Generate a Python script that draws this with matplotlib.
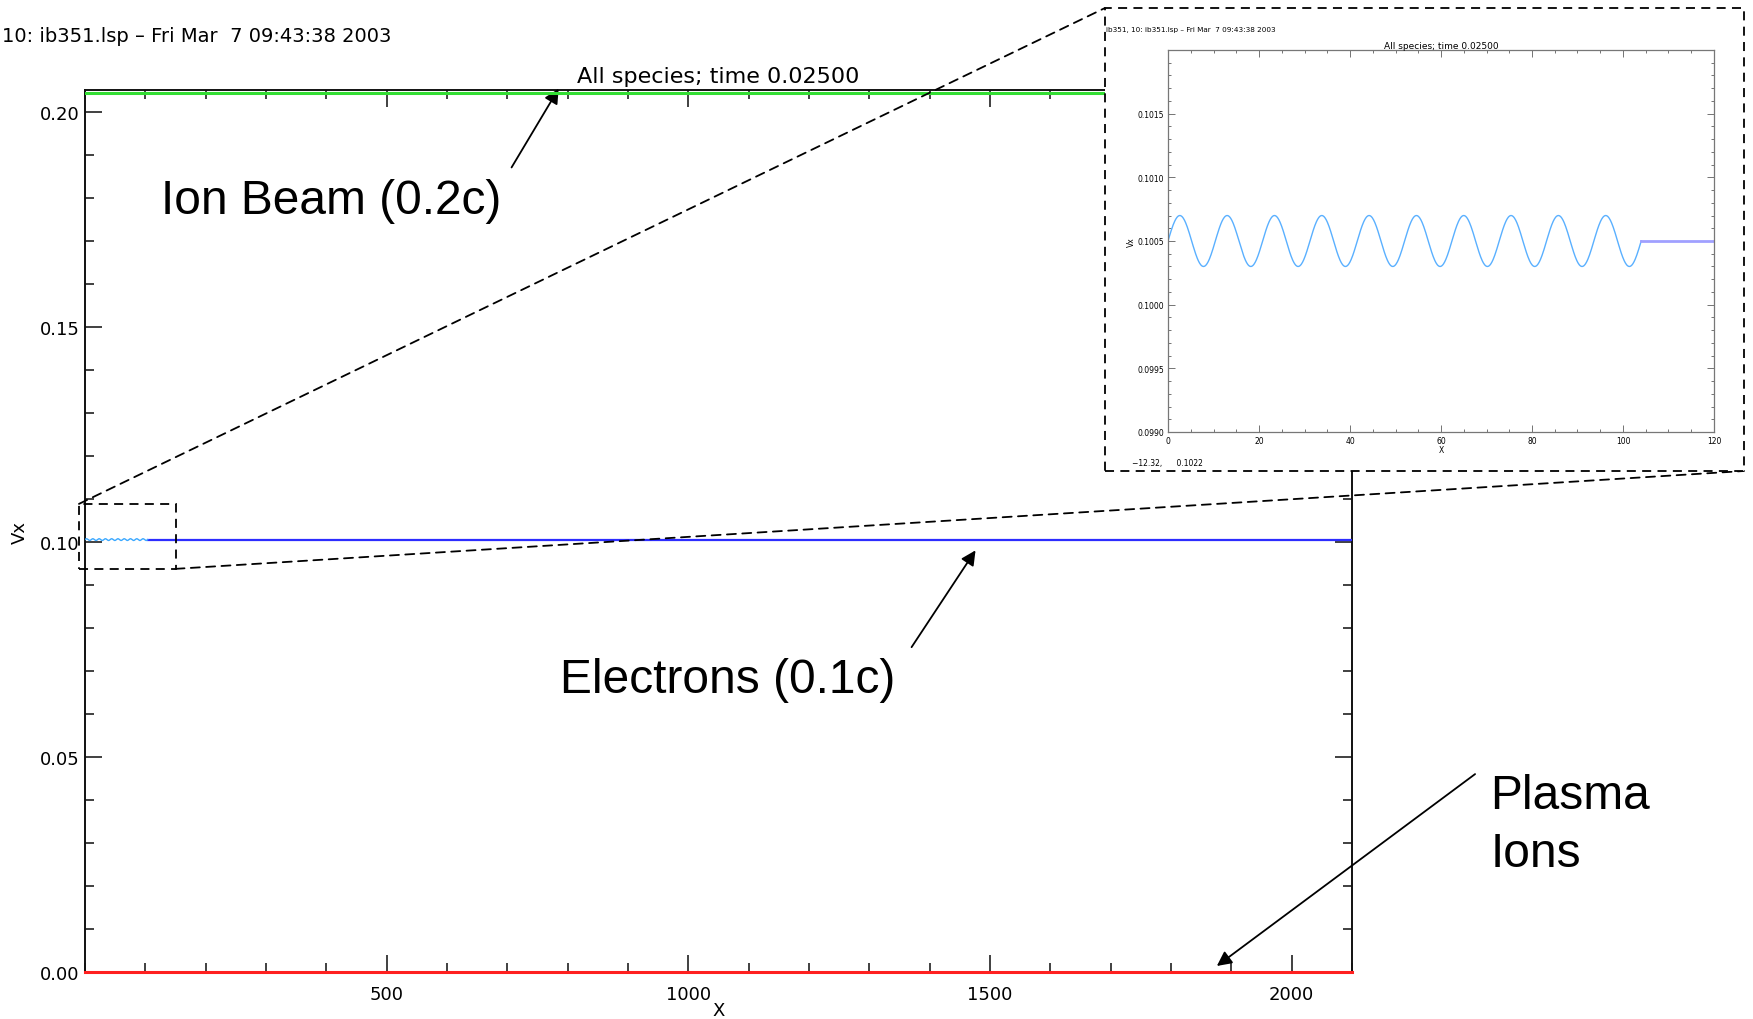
import numpy as np
import matplotlib
matplotlib.use("Agg")
import matplotlib.pyplot as plt
from matplotlib.patches import Rectangle, ConnectionPatch
from matplotlib.ticker import MultipleLocator, FormatStrFormatter, FixedLocator

# plot text uses the wider DejaVu face, the callouts use an Arial-like face
plt.rcParams['font.family'] = ['DejaVu Sans']
LABEL_FONT = ['Liberation Sans', 'DejaVu Sans']

# velocity of each species (units of c) across the domain
x_max = 2100.0
ion_beam_vx = 0.2042
electron_vx = 0.1005
plasma_ion_vx = 0.0

# seeded perturbation on the electron stream
wave_amp = 0.0002
wave_len = 10.4
wave_end = 104.0

header = "10: ib351.lsp \u2013 Fri Mar  7 09:43:38 2003"
inset_header = "ib351, 10: ib351.lsp \u2013 Fri Mar  7 09:43:38 2003"
title = "All species; time 0.02500"
cursor_text = "\u221212.32,      0.1022"
inset_yticks = [0.0990, 0.0995, 0.1000, 0.1005, 0.1010, 0.1015]

W, H = 1753, 1020
fig = plt.figure(figsize=(W / 100, H / 100), dpi=100)


def frac(px, py):
    # pixel position (from top-left) -> figure fraction
    return px / W, 1 - py / H


def idl_axes(ax, color, major_len, minor_len, width):
    for s in ax.spines.values():
        s.set_color(color)
        s.set_linewidth(width)
    ax.tick_params(which='both', direction='in', top=True, right=True,
                   color=color, width=width * 0.8)
    ax.tick_params(which='major', length=major_len)
    ax.tick_params(which='minor', length=minor_len)


# ---- main panel ----
ax = fig.add_axes([85 / W, 1 - 973 / H, (1352 - 85) / W, (973 - 91) / H])
wx = np.linspace(0, wave_end, 1200)
wave = electron_vx + wave_amp * np.sin(2 * np.pi * wx / wave_len)

ax.plot([0, x_max], [ion_beam_vx] * 2, color='#33dd33', lw=2.2, zorder=5)
ax.plot([wave_end, x_max], [electron_vx] * 2, color='#2d2dff', lw=1.6, zorder=5)
ax.plot(wx, wave, color='#3aa8ff', lw=1.0, zorder=6)
ax.plot([0, x_max], [plasma_ion_vx] * 2, color='#ff2020', lw=2.2, zorder=6,
        clip_on=False)

ax.set_xlim(0, x_max)
ax.set_ylim(0, 0.205)
ax.set_xticks([500, 1000, 1500, 2000])
ax.xaxis.set_minor_locator(MultipleLocator(100))
ax.yaxis.set_major_locator(MultipleLocator(0.05))
ax.yaxis.set_minor_locator(MultipleLocator(0.01))
ax.yaxis.set_major_formatter(FormatStrFormatter('%.2f'))
idl_axes(ax, '#111111', 12, 6.5, 1.4)
ax.tick_params(axis='x', labelsize=13, pad=9)
ax.tick_params(axis='y', labelsize=13, pad=4)
ax.set_xlabel('X', fontsize=13, labelpad=-1)
ax.set_ylabel('Vx', fontsize=13, labelpad=8)
ax.set_title(title, fontsize=16, pad=6)

fig.text(*frac(2, 37), header, fontsize=14, va='center', ha='left')

# zoom marker around the perturbed region
zoom_box = Rectangle((-10, 0.0937), 160, 0.0151, fill=False, ec='black',
                     lw=1.3, ls=(0, (5, 3.5)), clip_on=False, zorder=7)
ax.add_patch(zoom_box)

# ---- inset: close-up of the electron perturbation ----
bx0, by0 = frac(1105, 472)
bx1, by1 = frac(1744, 9)
frame = Rectangle((bx0, by0), bx1 - bx0, by1 - by0, transform=fig.transFigure,
                  fc='white', ec='black', lw=1.3, ls=(0, (5, 3.5)), zorder=3)
fig.add_artist(frame)

for xa, ya, xb, yb in [(-10, 0.1088, 1105, 9), (150, 0.0937, 1744, 472)]:
    con = ConnectionPatch(xyA=(xa, ya), coordsA=ax.transData,
                          xyB=frac(xb, yb), coordsB=fig.transFigure,
                          color='black', lw=1.3, ls=(0, (5, 3.5)), zorder=2)
    fig.add_artist(con)

axi = fig.add_axes([1168 / W, 1 - 433 / H, 546 / W, 382 / H])
axi.set_zorder(4)
axi.plot(wx, wave, color='#5ab0ff', lw=1.0)
axi.plot([wave_end, 120], [electron_vx] * 2, color='#a0a0ff', lw=2.0)
axi.set_xlim(0, 120)
axi.set_ylim(0.0990, 0.1020)
axi.xaxis.set_major_locator(MultipleLocator(20))
axi.xaxis.set_minor_locator(MultipleLocator(5))
axi.yaxis.set_major_locator(FixedLocator(inset_yticks))
axi.yaxis.set_minor_locator(MultipleLocator(0.0001))
axi.yaxis.set_major_formatter(FormatStrFormatter('%.4f'))
idl_axes(axi, '#777777', 5, 2.5, 0.9)
axi.tick_params(labelsize=5.5, pad=3)
axi.set_xlabel('X', fontsize=5.5, labelpad=0)
axi.set_ylabel('Vx', fontsize=5.5, labelpad=1)
axi.set_title(title, fontsize=6.5, pad=1)

fig.text(*frac(1106, 30), inset_header, fontsize=5.2, va='center', zorder=5)
fig.text(*frac(1132, 464), cursor_text, fontsize=5.5, va='center', zorder=5)

# ---- species labels ----
arrow = dict(arrowstyle='-|>', color='black', lw=1.3, mutation_scale=22,
             shrinkA=0, shrinkB=0)
ax.annotate('', xy=(785, 0.2053), xytext=(707, 0.1870),
            arrowprops=arrow, annotation_clip=False)
ax.text(126, 0.1793, 'Ion Beam (0.2c)', fontsize=34.5, va='center',
        family=LABEL_FONT)

ax.annotate('', xy=(1476, 0.0980), xytext=(1370, 0.0755),
            arrowprops=arrow, annotation_clip=False)
ax.text(788, 0.0681, 'Electrons (0.1c)', fontsize=34.5, va='center',
        family=LABEL_FONT)

ax.annotate('', xy=(1876, 0.0014), xytext=(2304, 0.0460),
            arrowprops=arrow, annotation_clip=False)
ax.text(2329, 0.0343, 'Plasma\nIons', fontsize=34.5, va='center',
        linespacing=1.35, clip_on=False, family=LABEL_FONT)

fig.savefig('out.png', dpi=100)
